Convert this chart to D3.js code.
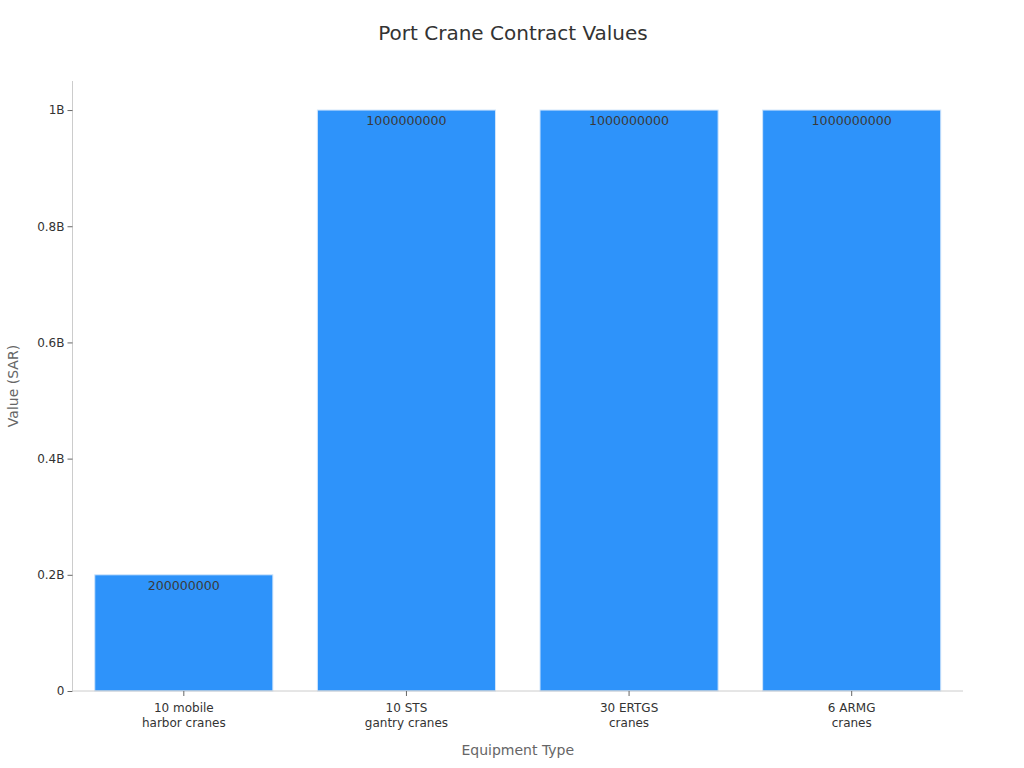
<!DOCTYPE html>
<html>
<head>
<meta charset="utf-8">
<script src="https://cdn.jsdelivr.net/npm/d3@7"></script>
<style>
  body { margin: 0; background: #fff; font-family: "DejaVu Sans", sans-serif; }
</style>
</head>
<body>
<div id="chart"></div>
<script>
// data
const categories = [["10 mobile", "harbor cranes"], ["10 STS", "gantry cranes"], ["30 ERTGS", "cranes"], ["6 ARMG", "cranes"]];
const values = [200000000, 1000000000, 1000000000, 1000000000];
const yTicks = [0, 0.2e9, 0.4e9, 0.6e9, 0.8e9, 1e9];

const W = 1024, H = 768;
const margin = {top: 81, right: 61, bottom: 77, left: 72.5},
    width = W - margin.left - margin.right,
    height = H - margin.top - margin.bottom;

const svg = d3.select("#chart").append("svg")
    .attr("width", W)
    .attr("height", H);

const g = svg.append("g")
    .attr("transform", `translate(${margin.left},${margin.top})`);

const keys = categories.map(c => c.join(" "));

const x = d3.scaleBand()
    .domain(keys)
    .range([0, width])
    .paddingInner(0.2)
    .paddingOuter(0.1);

const y = d3.scaleLinear()
    .domain([0, 1.05e9])
    .range([height, 0]);

// bars
g.selectAll(".bar")
    .data(values)
  .enter().append("rect")
    .attr("class", "bar")
    .attr("x", (d, i) => x(keys[i]))
    .attr("y", d => y(d))
    .attr("width", x.bandwidth())
    .attr("height", d => height - y(d))
    .attr("fill", "#2e93fa")
    .attr("stroke", "#cfe4fb")
    .attr("stroke-width", 1);

// value labels
g.selectAll(".val")
    .data(values)
  .enter().append("text")
    .attr("class", "val")
    .attr("x", (d, i) => x(keys[i]) + x.bandwidth() / 2)
    .attr("y", d => y(d) + 15)
    .attr("text-anchor", "middle")
    .attr("font-size", 12.6)
    .attr("fill", "#3a3a3a")
    .text(d => d);

// y axis
const yAxis = g.append("g")
    .call(d3.axisLeft(y).tickValues(yTicks).tickSize(5).tickPadding(3)
        .tickFormat(d => d === 0 ? "0" : d3.format("~g")(d / 1e9) + "B"));
yAxis.select(".domain").attr("stroke", "#ccc").attr("d", `M0,0V${height}`);
yAxis.selectAll(".tick line").attr("stroke", "#666");
yAxis.selectAll(".tick text").attr("font-size", 12).attr("fill", "#333")
    .attr("font-family", "DejaVu Sans, sans-serif");

// x axis
const xAxis = g.append("g")
    .attr("transform", `translate(0,${height})`)
    .call(d3.axisBottom(x).tickSize(5).tickPadding(6).tickFormat(""));
xAxis.select(".domain").attr("stroke", "#ccc").attr("d", `M0,0H${width}`);
xAxis.selectAll(".tick line").attr("stroke", "#666");
xAxis.selectAll(".tick").each(function(d, i) {
    const t = d3.select(this).append("text")
        .attr("fill", "#333")
        .attr("font-size", 12)
        .attr("text-anchor", "middle")
        .attr("font-family", "DejaVu Sans, sans-serif");
    categories[i].forEach((line, j) => {
        t.append("tspan").attr("x", 0).attr("y", 21 + j * 15).text(line);
    });
});

// axis titles
svg.append("text")
    .attr("x", margin.left + width / 2)
    .attr("y", 755)
    .attr("text-anchor", "middle")
    .attr("font-size", 14)
    .attr("fill", "#666")
    .text("Equipment Type");

svg.append("text")
    .attr("transform", `translate(18,${margin.top + height / 2}) rotate(-90)`)
    .attr("text-anchor", "middle")
    .attr("font-size", 14)
    .attr("fill", "#666")
    .text("Value (SAR)");

// title
svg.append("text")
    .attr("x", W / 2 + 1)
    .attr("y", 40)
    .attr("text-anchor", "middle")
    .attr("font-size", 20)
    .attr("fill", "#333")
    .text("Port Crane Contract Values");
</script>
</body>
</html>
